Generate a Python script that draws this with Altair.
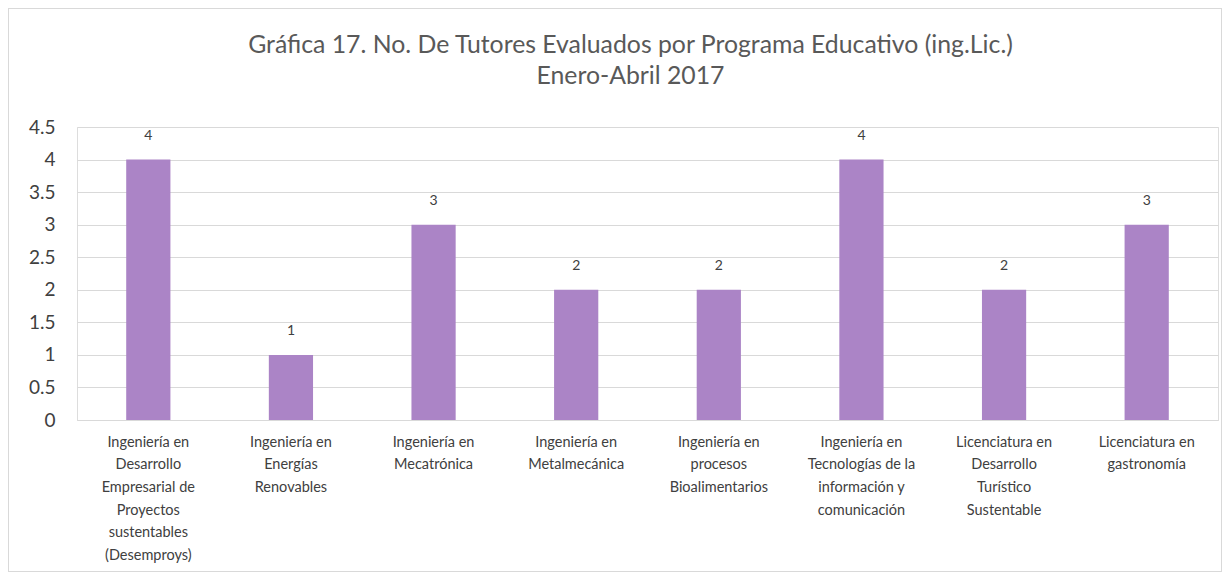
import altair as alt
import pandas as pd

categories = [
    "Ingeniería en|Desarrollo|Empresarial de|Proyectos|sustentables|(Desemproys)",
    "Ingeniería en|Energías|Renovables",
    "Ingeniería en|Mecatrónica",
    "Ingeniería en|Metalmecánica",
    "Ingeniería en|procesos|Bioalimentarios",
    "Ingeniería en|Tecnologías de la|información y|comunicación",
    "Licenciatura en|Desarrollo|Turístico|Sustentable",
    "Licenciatura en|gastronomía",
]
values = [4, 1, 3, 2, 2, 4, 2, 3]
y_ticks = [0, 0.5, 1, 1.5, 2, 2.5, 3, 3.5, 4, 4.5]
title_lines = ["Gráfica 17. No. De Tutores Evaluados por Programa Educativo (ing.Lic.)", "Enero-Abril 2017"]

df = pd.DataFrame({"programa": categories, "tutores": values})

FONT = "Lato"
W, H = 1141, 293
PL, PT = 69, 119

x = alt.X("programa:N", sort=categories, title=None,
          scale=alt.Scale(paddingInner=0.69, paddingOuter=0.345),
          axis=alt.Axis(labelExpr="split(datum.label, '|')", labelAngle=0,
                        labelFontSize=14.5, labelLineHeight=22.7, labelColor="#404040",
                        labelPadding=15, ticks=False, domainColor="#D9D9D9",
                        labelFont=FONT, labelLimit=200, grid=False))
y = alt.Y("tutores:Q", title=None,
          scale=alt.Scale(domain=[0, 4.5], nice=False),
          axis=alt.Axis(values=y_ticks, format="~g", ticks=False, domain=False, gridColor="#D9D9D9",
                        labelFontSize=19, labelColor="#404040", labelPadding=22,
                        labelFont=FONT))

bars = alt.Chart(df).mark_bar(color="#AB84C6").encode(x=x, y=y)
labels = alt.Chart(df).mark_text(dy=-17, baseline="bottom", fontSize=14, color="#404040",
                                 font=FONT).encode(x=x, y=y, text="tutores:Q")
border = alt.Chart(df).mark_rect(fill=None, stroke="#D9D9D9", strokeWidth=1).encode(
    x=alt.value(-PL + 0.5), x2=alt.value(1214 - PL - 0.5),
    y=alt.value(-PT + 0.5), y2=alt.value(564 - PT - 0.5))

title_df = pd.DataFrame({"line": title_lines})
t1 = alt.Chart(title_df.iloc[[0]]).mark_text(fontSize=24.8, font=FONT, color="#595959",
                                             baseline="middle", align="center").encode(
    text="line:N", x=alt.value(W / 2 - 17), y=alt.value(46 - 8 - PT))
t2 = alt.Chart(title_df.iloc[[1]]).mark_text(fontSize=24.8, font=FONT, color="#595959",
                                             baseline="middle", align="center").encode(
    text="line:N", x=alt.value(W / 2 - 17), y=alt.value(77 - 8 - PT))

chart = alt.layer(border, bars, labels, t1, t2).properties(
    width=W, height=H,
    autosize=alt.AutoSizeParams(type="none"),
    padding={"left": PL, "top": PT, "right": 1214 - PL - W, "bottom": 564 - PT - H},
).configure_view(stroke="transparent", strokeWidth=0).configure(background="white")

chart.save("out.html", embed_options={"renderer": "svg", "actions": False})
